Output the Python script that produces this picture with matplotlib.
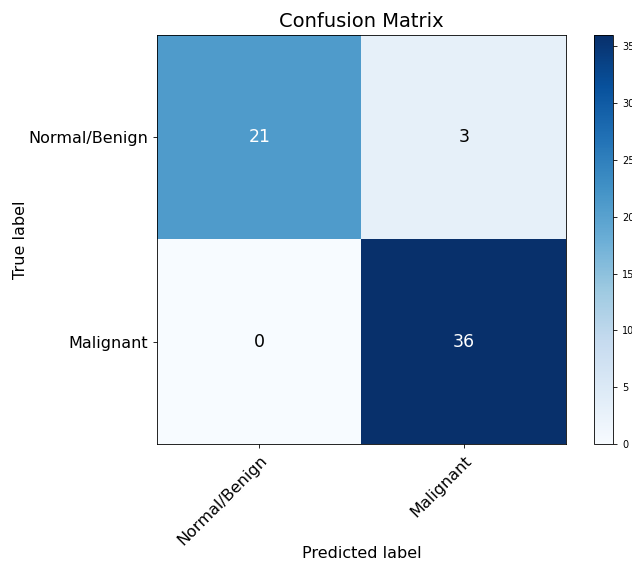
import numpy as np
import matplotlib
matplotlib.use('Agg')
import matplotlib.pyplot as plt

classes = ['Normal/Benign', 'Malignant']
cm = np.array([[21, 3],
               [0, 36]])

fig = plt.figure(figsize=(6.32, 5.62), dpi=100)
ax = fig.add_axes([157/632, 118/562, 409/632, 409/562])
cax = fig.add_axes([594/632, 118/562, 19/632, 409/562])

im = ax.imshow(cm, interpolation='nearest', cmap=plt.cm.Blues, vmin=0, vmax=cm.max())
cb = fig.colorbar(im, cax=cax)
cb.ax.tick_params(labelsize=7, length=3, width=0.6)
cb.outline.set_linewidth(0.6)

ax.set_title('Confusion Matrix', fontsize=14)
ticks = np.arange(len(classes))
ax.set_xticks(ticks)
ax.set_xticklabels(classes, rotation=45, ha='right', rotation_mode='anchor', fontsize=11.5)
ax.set_yticks(ticks)
ax.set_yticklabels(classes, fontsize=11.5)
ax.tick_params(length=3, width=0.6)
for s in ax.spines.values():
  s.set_linewidth(0.6)

thresh = cm.max() / 2.
for i in range(cm.shape[0]):
  for j in range(cm.shape[1]):
    ax.text(j, i, format(cm[i, j], 'd'), ha='center', va='center', fontsize=12.5,
            color='white' if cm[i, j] > thresh else 'black')

ax.set_ylabel('True label', fontsize=11.5, labelpad=0)
ax.set_xlabel('Predicted label', fontsize=11.5, labelpad=-2)

fig.savefig('out.png', dpi=100)
